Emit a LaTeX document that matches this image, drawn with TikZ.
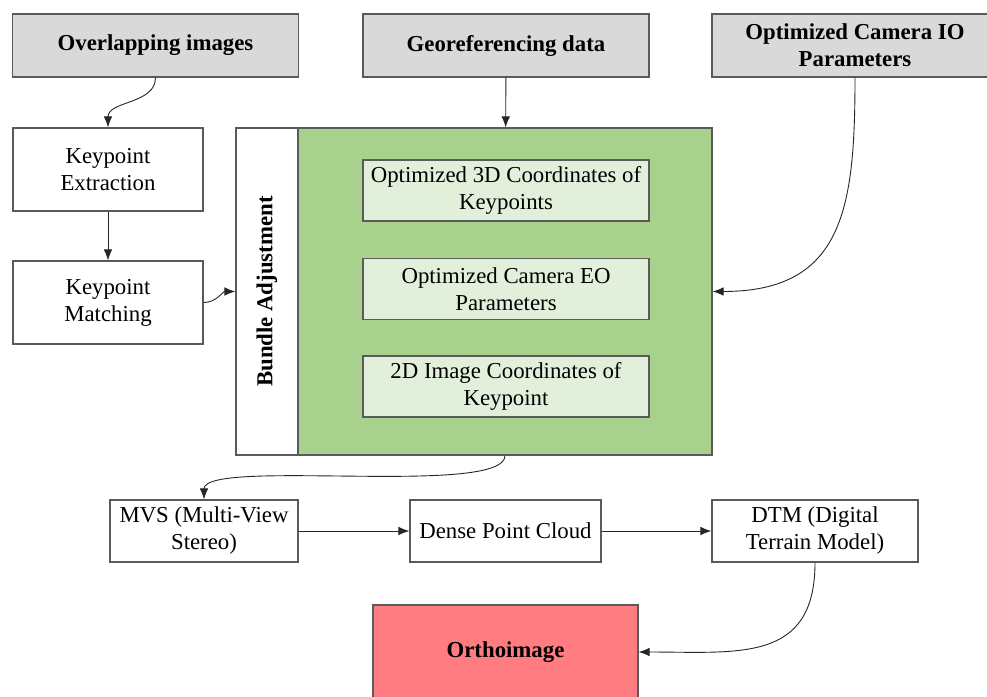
\documentclass[tikz,border=0pt]{standalone}
\usepackage{fontspec}
\setmainfont{LiberationSerif}[Extension=.ttf, UprightFont=*-Regular, BoldFont=*-Bold, ItalicFont=*-Italic, BoldItalicFont=*-BoldItalic]
\usetikzlibrary{arrows.meta}
\definecolor{headgray}{RGB}{217,217,217}
\definecolor{bagreen}{RGB}{169,209,142}
\definecolor{palegreen}{RGB}{226,239,218}
\definecolor{orthored}{RGB}{255,124,128}
\definecolor{linegray}{RGB}{90,90,90}

\begin{document}
\begin{tikzpicture}[
    x=1pt, y=-1pt,
    box/.style={rectangle, draw=linegray, line width=1.1pt, fill=white, align=center, inner sep=2pt, font=\fontsize{22.8}{27}\selectfont},
    source/.style={box, fill=headgray, font=\fontsize{22.8}{27}\selectfont\bfseries, minimum width=286pt, minimum height=63pt},
    stepbox/.style={box, minimum width=190pt, minimum height=83pt},
    flowbox/.style={box, minimum height=62pt},
    strip/.style={box, minimum width=62pt, minimum height=327pt},
    panel/.style={box, fill=bagreen, minimum width=414pt, minimum height=327pt},
    result/.style={box, fill=palegreen, minimum width=286pt, minimum height=61pt},
    target/.style={box, fill=orthored, font=\fontsize{22.8}{27}\selectfont\bfseries, minimum width=265pt, minimum height=94pt},
    every edge/.style={draw=black!85, line width=0.9pt, -{Latex[length=11pt,width=8.5pt]}}
]
\useasboundingbox (0,0) rectangle (987,696);

\node[source] (In-1) at (155.5, 45.5) {Overlapping images};
\node[source] (In-2) at (506, 45.5) {Georeferencing data};
\node[source] (In-3) at (855, 45.5) {Optimized Camera IO\\Parameters};

\node[stepbox] (KP-1) at (108, 169.5) {Keypoint\\Extraction};
\node[stepbox] (KP-2) at (108, 302.5) {Keypoint\\Matching};

\node[strip] (BA) at (267, 291.5) {\rotatebox{90}{\bfseries Bundle Adjustment}};
\node[panel] (BAPanel) at (505, 291.5) {};

\node[result] (Res-1) at (506, 190.5) {Optimized 3D Coordinates of\\Keypoints};
\node[result] (Res-2) at (506, 289) {Optimized Camera EO\\Parameters};
\node[result] (Res-3) at (506, 386.5) {2D Image Coordinates of\\Keypoint};

\node[flowbox, minimum width=188pt] (MVS) at (204, 531) {MVS (Multi-View\\Stereo)};
\node[flowbox, minimum width=191pt] (Dense) at (505.5, 531) {Dense Point Cloud};
\node[flowbox, minimum width=206pt] (DTM) at (815, 531) {DTM (Digital\\Terrain Model)};

\node[target] (Ortho) at (505.5, 652) {Orthoimage};

% Connections
\path (In-1.south) edge[out=-90, in=90] (KP-1.north);
\path (KP-1) edge (KP-2);
\path (KP-2.east) edge[out=0, in=180] (BA.west);
\path (In-2) edge (BAPanel);
\path (In-3.south) edge[out=-90, in=0, looseness=1.3] (BAPanel.east);
\path (BAPanel.south) edge[out=-90, in=90, looseness=0.35] (MVS.north);
\path (MVS) edge (Dense);
\path (Dense) edge (DTM);
\path (DTM.south) edge[out=-90, in=0, looseness=1.3] (Ortho.east);

\end{tikzpicture}
\end{document}
